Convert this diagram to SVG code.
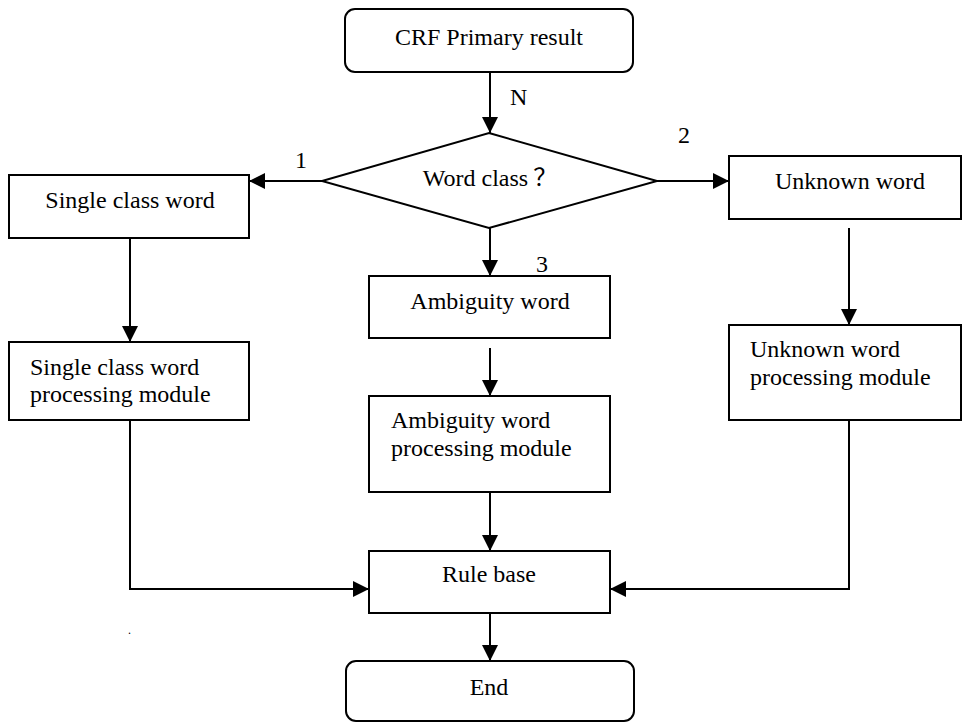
<svg xmlns="http://www.w3.org/2000/svg" width="962" height="722" viewBox="0 0 962 722">
<defs>
<marker id="ah" markerWidth="16" markerHeight="16" viewBox="0 0 16 16" refX="16" refY="8" orient="auto" markerUnits="userSpaceOnUse">
<path d="M0,0 L16,8 L0,16 Z" fill="#000"/>
</marker>
</defs>
<style>
.box{fill:#fff;stroke:#000;stroke-width:2}
.t{font-family:"Liberation Serif","Times New Roman",serif;font-size:24px;fill:#000}
.cjk{font-family:"Noto Sans CJK SC","Noto Sans CJK JP",sans-serif}
.c{text-anchor:middle}
.ln{fill:none;stroke:#000;stroke-width:2}
.ar{fill:none;stroke:#000;stroke-width:2;marker-end:url(#ah)}
</style>
<rect width="962" height="722" fill="#fff"/>
<g id="connectors">
<line class="ar" x1="490" y1="72" x2="490" y2="133"/>
<line class="ar" x1="322" y1="181" x2="249" y2="181"/>
<line class="ar" x1="657" y1="181" x2="729" y2="181"/>
<line class="ar" x1="490" y1="228" x2="490" y2="276"/>
<line class="ar" x1="130" y1="238" x2="130" y2="342"/>
<line class="ar" x1="490" y1="348" x2="490" y2="396"/>
<line class="ar" x1="849" y1="228" x2="849" y2="325"/>
<polyline class="ar" points="130,420 130,589 369,589"/>
<polyline class="ar" points="849,420 849,589 610,589"/>
<line class="ar" x1="490" y1="492" x2="490" y2="551"/>
<line class="ar" x1="490" y1="613" x2="490" y2="661"/>
<text class="t" x="510" y="105">N</text>
<text class="t" x="295" y="168">1</text>
<text class="t" x="678" y="143">2</text>
<text class="t" x="536" y="272">3</text>
</g>
<g id="crf">
<rect class="box" x="345" y="9" width="288" height="63" rx="10"/>
<text class="t c" x="489" y="45">CRF Primary result</text>
</g>
<g id="wordclass">
<polygon class="box" points="489,133 657,181 489,228 322,181"/>
<text class="t c" x="490" y="186">Word class<tspan class="cjk" dx="5">？</tspan></text>
</g>
<g id="single">
<rect class="box" x="9" y="175" width="240" height="63"/>
<text class="t c" x="130" y="208">Single class word</text>
</g>
<g id="singleproc">
<rect class="box" x="9" y="342" width="240" height="78"/>
<text class="t" x="30" y="375">Single class word</text>
<text class="t" x="30" y="402">processing module</text>
</g>
<g id="ambig">
<rect class="box" x="369" y="276" width="241" height="62"/>
<text class="t c" x="490" y="309">Ambiguity word</text>
</g>
<g id="ambigproc">
<rect class="box" x="369" y="396" width="241" height="96"/>
<text class="t" x="391" y="428">Ambiguity word</text>
<text class="t" x="391" y="456">processing module</text>
</g>
<g id="unknown">
<rect class="box" x="729" y="156" width="232" height="63"/>
<text class="t c" x="850" y="189">Unknown word</text>
</g>
<g id="unknownproc">
<rect class="box" x="729" y="325" width="232" height="95"/>
<text class="t" x="750" y="357">Unknown word</text>
<text class="t" x="750" y="385">processing module</text>
</g>
<g id="rulebase">
<rect class="box" x="369" y="551" width="241" height="62"/>
<text class="t c" x="489" y="582">Rule base</text>
</g>
<g id="end">
<rect class="box" x="346" y="661" width="288" height="60" rx="10"/>
<text class="t c" x="489" y="695">End</text>
</g>
<text class="t" x="128" y="634" style="font-size:12px">.</text>
</svg>
